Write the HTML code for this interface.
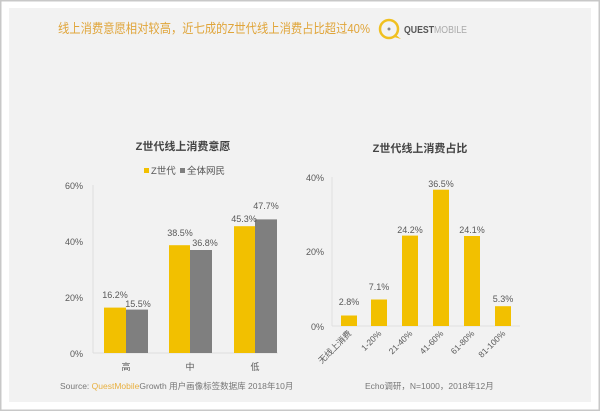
<!DOCTYPE html>
<html><head><meta charset="utf-8"><style>
html,body{margin:0;padding:0;background:#fff;}
svg{display:block;font-family:"Liberation Sans","Noto Sans CJK SC",sans-serif;}
</style></head><body>
<svg width="600" height="411" viewBox="0 0 600 411" xmlns="http://www.w3.org/2000/svg">
<rect x="0.5" y="0.5" width="599" height="410" fill="#fff" stroke="#c8c8c8" stroke-width="2"/>
<rect x="9" y="8" width="582" height="394" fill="#f2f2f2"/>
<text x="58" y="33" font-size="13" fill="#e0a53a" textLength="312" lengthAdjust="spacingAndGlyphs">线上消费意愿相对较高，近七成的Z世代线上消费占比超过40%</text>
<circle cx="389" cy="29" r="9" fill="none" stroke="#f0c020" stroke-width="2.5"/>
<circle cx="389" cy="29" r="1.5" fill="#888"/>
<path d="M396 35 L401 39 L394 37Z" fill="#f0c020"/>
<text x="404" y="33" font-size="10" font-weight="bold" fill="#555" textLength="63" lengthAdjust="spacingAndGlyphs">QUEST<tspan font-weight="normal" fill="#aaa">MOBILE</tspan></text>

<!-- left chart -->
<text x="183" y="150" font-size="11" fill="#444" text-anchor="middle" font-weight="bold">Z世代线上消费意愿</text>
<rect x="144" y="168" width="5" height="5" fill="#f2c000"/>
<text x="151" y="174" font-size="9.5" fill="#555">Z世代</text>
<rect x="180" y="168" width="5" height="5" fill="#7f7f7f"/>
<text x="187" y="174" font-size="9.5" fill="#555">全体网民</text>
<g font-size="9" fill="#595959" text-anchor="end">
<text x="83" y="189">60%</text><text x="83" y="245">40%</text><text x="83" y="301">20%</text><text x="83" y="357">0%</text>
</g>
<line x1="93" y1="185" x2="93" y2="353" stroke="#ddd"/>
<line x1="93" y1="353" x2="278" y2="353" stroke="#ddd"/>
<g fill="#f2c000">
<rect x="104" y="307.6" width="22" height="45.4"/>
<rect x="169" y="245.2" width="21" height="107.8"/>
<rect x="234" y="226.2" width="21" height="126.8"/>
</g>
<g fill="#7f7f7f">
<rect x="126" y="309.6" width="22" height="43.4"/>
<rect x="190" y="250" width="22" height="103"/>
<rect x="255" y="219.4" width="22" height="133.6"/>
</g>
<g font-size="9" fill="#595959" text-anchor="middle">
<text x="115" y="298">16.2%</text><text x="138" y="307">15.5%</text>
<text x="180" y="236">38.5%</text><text x="205" y="246">36.8%</text>
<text x="244" y="222">45.3%</text><text x="266" y="209">47.7%</text>
<text x="126" y="370">高</text><text x="190" y="370">中</text><text x="255" y="370">低</text>
</g>

<!-- right chart -->
<text x="420" y="152" font-size="11" fill="#444" text-anchor="middle" font-weight="bold">Z世代线上消费占比</text>
<g font-size="9" fill="#595959" text-anchor="end">
<text x="324" y="181">40%</text><text x="324" y="255">20%</text><text x="324" y="330">0%</text>
</g>
<line x1="332" y1="177" x2="332" y2="326" stroke="#e0e0e0"/>
<line x1="332" y1="326" x2="520" y2="326" stroke="#e0e0e0"/>
<g fill="#f2c000">
<rect x="341" y="315.5" width="16" height="10.5"/>
<rect x="371" y="299.5" width="16" height="26.5"/>
<rect x="402" y="235.6" width="16" height="90.4"/>
<rect x="433" y="189.7" width="16" height="136.3"/>
<rect x="464" y="236" width="16" height="90"/>
<rect x="495" y="306.2" width="16" height="19.8"/>
</g>
<g font-size="9" fill="#595959" text-anchor="middle">
<text x="349" y="305">2.8%</text><text x="379" y="290">7.1%</text>
<text x="410" y="233">24.2%</text><text x="441" y="187">36.5%</text>
<text x="472" y="233">24.1%</text><text x="503" y="302">5.3%</text>
</g>
<g font-size="8.5" fill="#595959" text-anchor="end">
<text transform="translate(352,334) rotate(-45)">无线上消费</text>
<text transform="translate(382,334) rotate(-45)">1-20%</text>
<text transform="translate(413,334) rotate(-45)">21-40%</text>
<text transform="translate(444,334) rotate(-45)">41-60%</text>
<text transform="translate(475,334) rotate(-45)">61-80%</text>
<text transform="translate(506,334) rotate(-45)">81-100%</text>
</g>

<text x="60" y="389" font-size="8.5" fill="#777">Source:  <tspan fill="#e8b040">QuestMobile</tspan>Growth 用户画像标签数据库 2018年10月</text>
<text x="365" y="389" font-size="8.5" fill="#777">Echo调研，N=1000，2018年12月</text>
</svg>
</body></html>
